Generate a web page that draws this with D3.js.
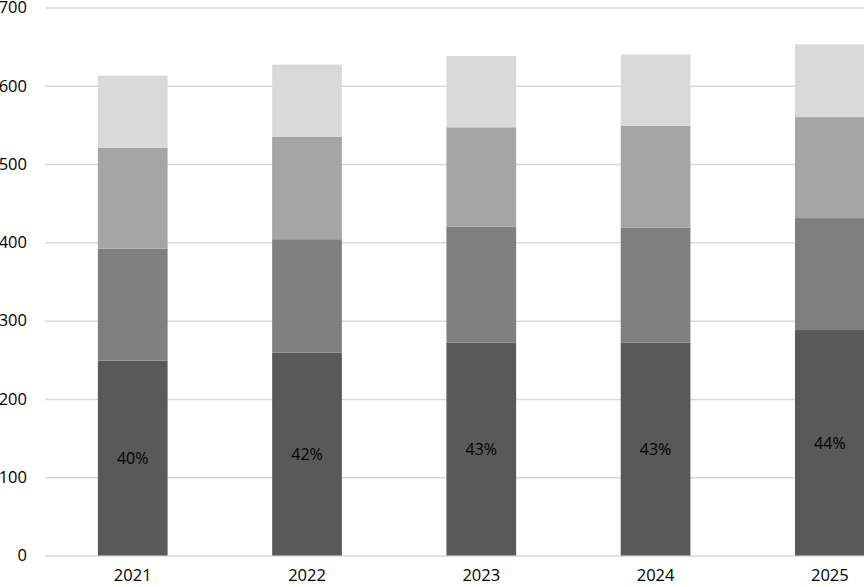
<!DOCTYPE html>
<html><head><meta charset="utf-8">
<script src="https://cdn.jsdelivr.net/npm/d3@7"></script>
<style>body{margin:0;background:#fff;overflow:hidden}svg{display:block}text{font-family:"Open Sans",sans-serif}</style>
</head><body>
<svg id="c" width="864" height="587"></svg>
<script>
const categories = ["2021","2022","2023","2024","2025"];
const series1 = [249, 259, 272, 272, 288];
const series2 = [143, 145, 148, 147, 143];
const series3 = [129, 131, 127, 130, 129];
const series4 = [92, 92, 91, 91, 93];
const shareLabels = ["40%","42%","43%","43%","44%"];
const yTicks = [0,100,200,300,400,500,600,700];
const colors = ["#595959","#7f7f7f","#a5a5a5","#d9d9d9"];

const svg = d3.select("#c");
const x = d3.scaleBand().domain(categories).range([45.6, 917]).paddingInner(0.6).paddingOuter(0.3);
const y = d3.scaleLinear().domain([0,700]).range([555.5, 7.5]);

const rows = categories.map((c,i)=>({cat:c, s1:series1[i], s2:series2[i], s3:series3[i], s4:series4[i]}));
const stack = d3.stack().keys(["s1","s2","s3","s4"])(rows);

// gridlines
const yAxis = d3.axisLeft(y).tickValues(yTicks).tickSize(-(917-45)).tickPadding(18);
const ga = svg.append("g").attr("transform","translate(45,0)").call(yAxis);
ga.select(".domain").remove();
ga.selectAll(".tick line").attr("stroke","#d9d9d9").attr("stroke-width",1.5);
ga.selectAll(".tick text").attr("fill","#000").style("font-size","16.5px");

// bars
svg.append("g").selectAll("g").data(stack).join("g").attr("fill",(d,i)=>colors[i])
  .selectAll("rect").data(d=>d).join("rect")
  .attr("x",d=>x(d.data.cat)).attr("width",x.bandwidth())
  .attr("y",d=>y(d[1])).attr("height",d=>y(d[0])-y(d[1]));

// labels in bottom segment
svg.append("g").selectAll("text").data(rows).join("text")
  .attr("x",d=>x(d.cat)+x.bandwidth()/2)
  .attr("y",d=>(y(0)+y(d.s1))/2)
  .attr("text-anchor","middle").attr("dominant-baseline","central")
  .style("font-size","16px").attr("fill","#000")
  .text((d,i)=>shareLabels[i]);

// x axis labels
const xAxis = d3.axisBottom(x).tickSize(0).tickPadding(14);
const gx = svg.append("g").attr("transform","translate(0,555.5)").call(xAxis);
gx.select(".domain").remove();
gx.selectAll(".tick text").attr("fill","#000").style("font-size","16.5px");
</script>
</body></html>
